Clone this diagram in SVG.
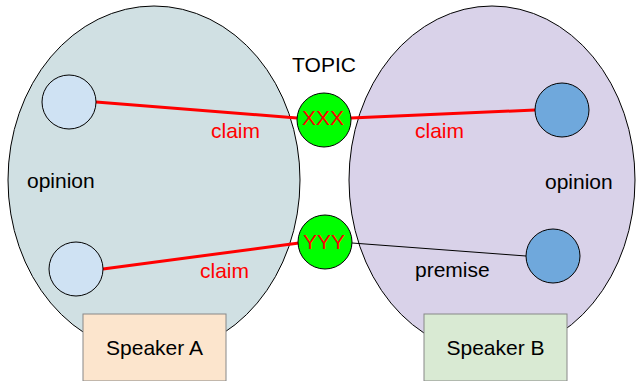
<svg xmlns="http://www.w3.org/2000/svg" width="636" height="381" viewBox="0 0 636 381">
  <style>
    text { font-family: "Liberation Sans", Arial, sans-serif; font-size: 21px; fill: #000; }
    .red { fill: #ff0000; }
    .area { stroke: #000; stroke-width: 1; }
    .point { stroke: #000; stroke-width: 1; }
    .topic { fill: #00ff00; stroke: #000; stroke-width: 1; }
    .box { stroke: #888; stroke-width: 1; }
    .claim { stroke: #ff0000; stroke-width: 3; fill: none; }
    .premise { stroke: #000; stroke-width: 1; fill: none; }
  </style>

  <!-- speaker areas -->
  <g id="areaA">
    <ellipse class="area" cx="154" cy="180" rx="146" ry="174" fill="#d0e0e3"/>
    <text x="27" y="188">opinion</text>
  </g>
  <g id="areaB">
    <ellipse class="area" cx="492" cy="180" rx="143" ry="174" fill="#d9d2e9"/>
    <text x="545" y="189">opinion</text>
  </g>

  <!-- connectors -->
  <g id="connectors">
    <line class="claim" x1="96" y1="102" x2="297" y2="118"/>
    <line class="claim" x1="351" y1="118" x2="535" y2="110"/>
    <line class="claim" x1="103" y1="269" x2="299" y2="243"/>
    <line class="premise" x1="352" y1="243" x2="526" y2="256"/>
    <text class="red" x="211" y="138">claim</text>
    <text class="red" x="415" y="138">claim</text>
    <text class="red" x="200" y="278">claim</text>
    <text x="415" y="277">premise</text>
  </g>

  <!-- statements -->
  <g id="pointA1"><circle class="point" cx="69" cy="102" r="27" fill="#cfe2f3"/></g>
  <g id="pointA2"><circle class="point" cx="76" cy="269" r="27" fill="#cfe2f3"/></g>
  <g id="pointB1"><circle class="point" cx="562" cy="110" r="27" fill="#6fa8dc"/></g>
  <g id="pointB2"><circle class="point" cx="553" cy="256" r="27" fill="#6fa8dc"/></g>

  <!-- topics -->
  <g id="topicLabel"><text x="324" y="72" text-anchor="middle">TOPIC</text></g>
  <g id="topicX">
    <circle class="topic" cx="324" cy="120" r="27"/>
    <text class="red" x="323" y="125" text-anchor="middle">XXX</text>
  </g>
  <g id="topicY">
    <circle class="topic" cx="325" cy="242" r="27"/>
    <text class="red" x="324" y="249" text-anchor="middle">YYY</text>
  </g>

  <!-- speakers -->
  <g id="speakerA">
    <rect class="box" x="83" y="314" width="143" height="67" fill="#fce5cd"/>
    <text x="154.5" y="355" text-anchor="middle">Speaker A</text>
  </g>
  <g id="speakerB">
    <rect class="box" x="424" y="314" width="143" height="67" fill="#d9ead3"/>
    <text x="495.5" y="355" text-anchor="middle">Speaker B</text>
  </g>
</svg>
